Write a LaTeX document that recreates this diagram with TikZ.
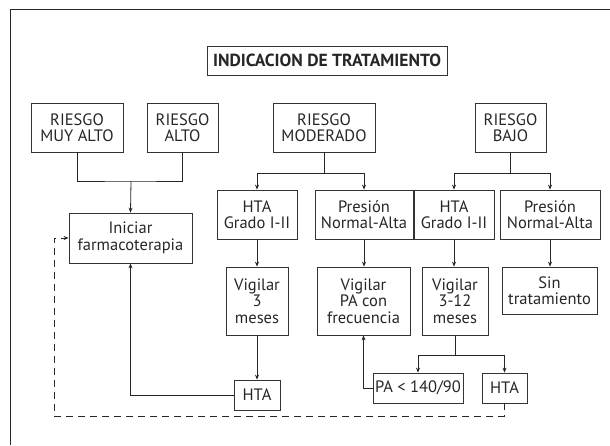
\documentclass[tikz,border=0pt]{standalone}
\usepackage{fontspec}
\setmainfont{PT Sans}
\usetikzlibrary{arrows.meta}

\begin{document}
\begin{tikzpicture}[x=1pt,y=-1pt,
    box/.style={draw=black!80, line width=0.8pt, align=center, inner sep=0pt,
        font=\fontsize{16.5}{16.5}\selectfont},
    arr/.style={-{Stealth[length=5pt,width=4pt]}},
    retro/.style={dash pattern=on 7pt off 5pt}]
\useasboundingbox (0,0) rectangle (610,445);
\draw[black!85, line width=0.8pt] (10,445) -- (10,9) -- (610,9);

\begin{scope}[line width=0.8pt, black!85]
    \node[box, minimum width=240, minimum height=29, font=\fontsize{17.5}{17.5}\selectfont\bfseries] (TIT) at (327, 60.5) {INDICACION DE TRATAMIENTO};

    \node[box, minimum width=92, minimum height=49] (MA) at (77, 127.5) {RIESGO\\MUY ALTO};
    \node[box, minimum width=71, minimum height=49] (ALTO) at (182.5, 127.5) {RIESGO\\ALTO};
    \node[box, minimum width=102, minimum height=49] (MOD) at (324, 127.5) {RIESGO\\MODERADO};
    \node[box, minimum width=71, minimum height=49] (BAJO) at (510.5, 127.5) {RIESGO\\BAJO};

    \node[box, minimum width=123, minimum height=50] (INI) at (130.5, 238) {Iniciar\\farmacoterapia};
    \node[box, minimum width=80, minimum height=49] (HTA1) at (257, 214.5) {HTA\\Grado I-II};
    \node[box, minimum width=98, minimum height=49] (PNA1) at (364, 214.5) {Presión\\Normal-Alta};
    \node[box, minimum width=80, minimum height=49] (HTA2) at (454, 214.5) {HTA\\Grado I-II};
    \node[box, minimum width=100, minimum height=49] (PNA2) at (550, 214.5) {Presión\\Normal-Alta};

    \node[box, minimum width=62, minimum height=68] (VIG1) at (257, 301) {Vigilar\\3\\meses};
    \node[box, minimum width=93, minimum height=68] (VIG2) at (363.5, 301) {Vigilar\\PA con\\frecuencia};
    \node[box, minimum width=66, minimum height=68] (VIG3) at (455, 301) {Vigilar\\3-12\\meses};
    \node[box, minimum width=95, minimum height=47] (SIN) at (549.5, 290.5) {Sin\\tratamiento};

    \node[box, minimum width=46, minimum height=30] (HTAa) at (257, 395) {HTA};
    \node[box, minimum width=90, minimum height=30] (PA) at (418, 388) {PA < 140/90};
    \node[box, minimum width=45, minimum height=30] (HTAb) at (504.5, 388) {HTA};

    \coordinate (J1) at (131, 181);
    \coordinate (J2) at (324, 173);
    \coordinate (J3) at (510.5, 173);
    \coordinate (J4) at (455, 355);
    \coordinate (D1) at (54, 416);

    \draw (MA.south) |- (J1) -| (ALTO.south);
    \draw[arr] (J1) -- (INI.north);
    \draw (MOD.south) -- (J2);
    \draw[arr] (J2) -| (HTA1.north);
    \draw[arr] (J2) -| (PNA1.north);
    \draw (BAJO.south) -- (J3);
    \draw[arr] (J3) -| (HTA2.north);
    \draw[arr] (J3) -| (PNA2.north);

    \draw[arr] (HTA1.south) -- (VIG1.north);
    \draw[arr] (PNA1.south) -- (PNA1.south |- VIG2.north);
    \draw[arr] (HTA2.south) -- (HTA2.south |- VIG3.north);
    \draw[arr] (PNA2.south) -- (PNA2.south |- SIN.north);

    \draw[arr] (VIG1.south) -- (HTAa.north);
    \draw (VIG3.south) -- (J4);
    \draw[arr] (J4) -| (PA.north);
    \draw[arr] (J4) -| (HTAb.north);

    \draw[arr] (HTAa.west) -| (INI.south);
    \draw[arr] (PA.west) -| (VIG2.south);
    \draw[arr, retro] (HTAb.south) |- (D1) |- (INI.west);
\end{scope}
\end{tikzpicture}
\end{document}
